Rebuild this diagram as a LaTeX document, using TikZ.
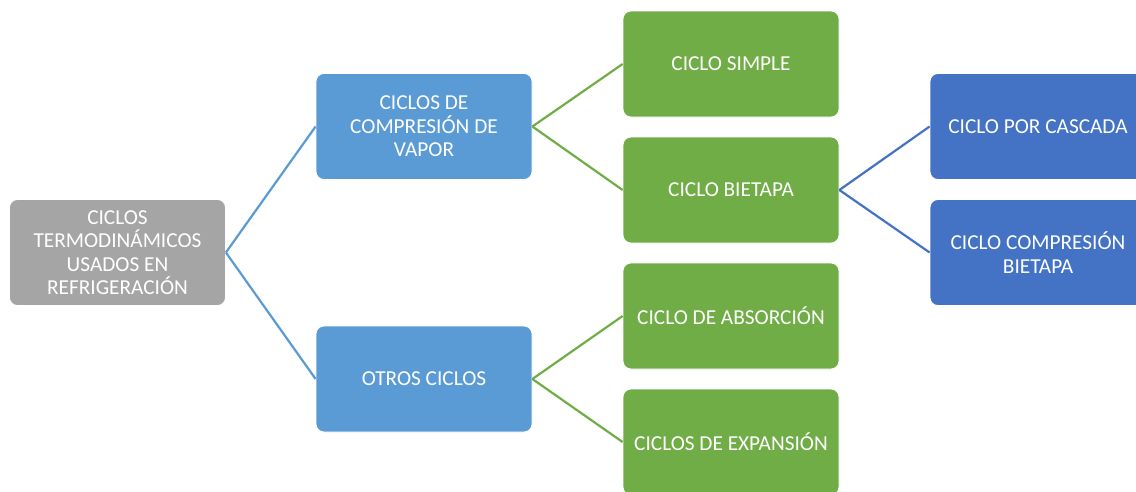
\documentclass[tikz,border=0pt]{standalone}
\usepackage{fontspec}
\setmainfont{Carlito}
\definecolor{cgray}{HTML}{A5A5A5}
\definecolor{clblue}{HTML}{5B9BD5}
\definecolor{cgreen}{HTML}{70AD47}
\definecolor{cdblue}{HTML}{4472C4}
\begin{document}
\begin{tikzpicture}[x=1pt,y=-1pt,
  box/.style={rectangle, rounded corners=8pt, minimum width=216pt, minimum height=106pt,
    text=white, align=center, inner sep=2pt, font=\fontsize{21.3}{23.5}\selectfont,
    draw=white, line width=0.8pt},
  conn/.style={line width=2.2pt}]
\useasboundingbox (0,0) rectangle (1136,491);
\node[box, fill=cgray] (root) at (117.5,252.5) {CICLOS\\TERMODINÁMICOS\\USADOS EN\\REFRIGERACIÓN};
\node[box, fill=clblue] (comp) at (424,126.5) {CICLOS DE\\COMPRESIÓN DE\\VAPOR};
\node[box, fill=clblue] (otros) at (424,379) {OTROS CICLOS};
\node[box, fill=cgreen] (simple) at (731,64) {CICLO SIMPLE};
\node[box, fill=cgreen] (bietapa) at (731,190) {CICLO BIETAPA};
\node[box, fill=cgreen] (absor) at (731,316) {CICLO DE ABSORCIÓN};
\node[box, fill=cgreen] (expan) at (731,442) {CICLOS DE EXPANSIÓN};
\node[box, fill=cdblue] (cascada) at (1038,126.5) {CICLO POR CASCADA};
\node[box, fill=cdblue] (compbi) at (1038,252.5) {CICLO COMPRESIÓN\\BIETAPA};
\draw[conn, clblue] (root.east) -- (comp.west);
\draw[conn, clblue] (root.east) -- (otros.west);
\draw[conn, cgreen] (comp.east) -- (simple.west);
\draw[conn, cgreen] (comp.east) -- (bietapa.west);
\draw[conn, cgreen] (otros.east) -- (absor.west);
\draw[conn, cgreen] (otros.east) -- (expan.west);
\draw[conn, cdblue] (bietapa.east) -- (cascada.west);
\draw[conn, cdblue] (bietapa.east) -- (compbi.west);
\end{tikzpicture}
\end{document}
